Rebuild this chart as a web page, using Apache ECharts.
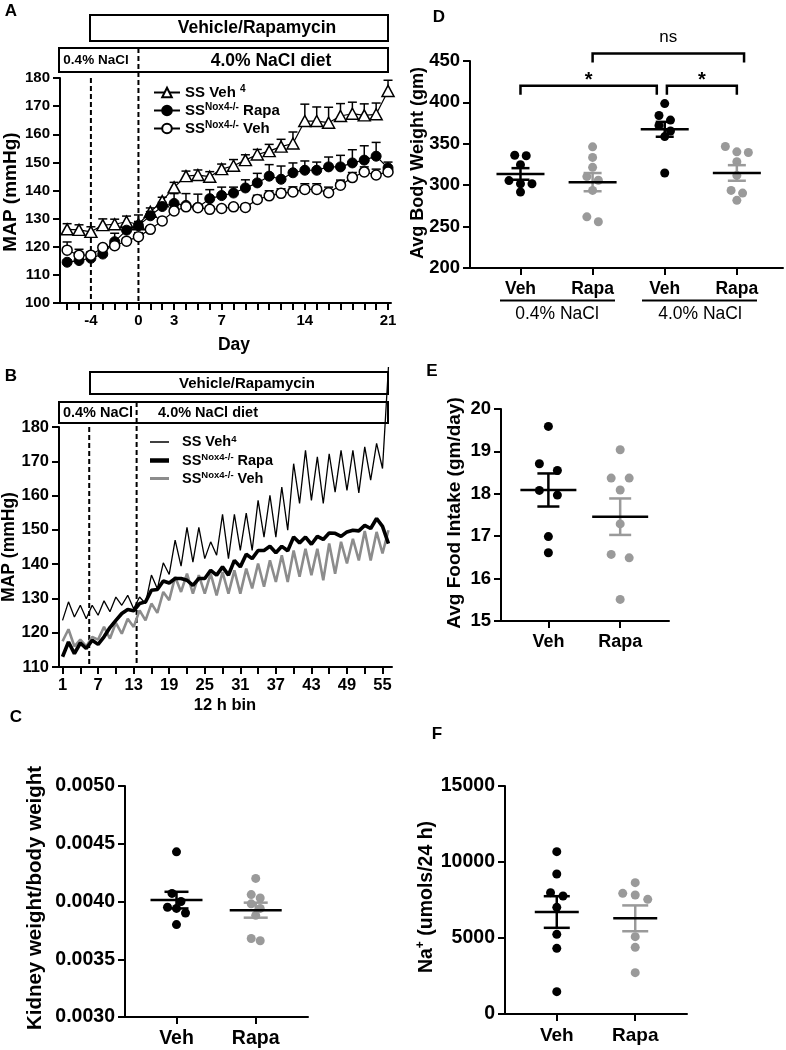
<!DOCTYPE html>
<html>
<head>
<meta charset="utf-8">
<script src="https://cdn.jsdelivr.net/npm/echarts@6/dist/echarts.min.js"></script>
<style>
html, body { margin: 0; padding: 0; background: #fff; }
#chart { width: 786px; height: 1050px; }
</style>
</head>
<body>
<div id="chart"></div>
<script>
// ---------- panel A : daily MAP ----------
const days = [-6, -5, -4, -3, -2, -1, 0, 1, 2, 3, 4, 5, 6, 7, 8, 9, 10, 11, 12, 13, 14, 15, 16, 17, 18, 19, 20, 21];
const dayTicks = [-6, -5, -4, -3, -2, -1, 0, 1, 2, 3, 4, 5, 6, 7, 8, 9, 10, 11, 12, 13, 14, 15, 16, 17, 18, 19, 20, 21];
const dayLabels = [-4, 0, 3, 7, 14, 21];
const dietMarksA = [-4, 0];
const ssVeh = [126.2, 126, 125.3, 127.7, 128, 128.9, 128, 132.4, 136.2, 141.1, 145.1, 145.5, 144.9, 147.6, 148.8, 150.8, 152.8, 154, 155.6, 156.7, 164.7, 164.7, 164.1, 166.5, 167.3, 166.7, 167.1, 175.4];
const ssVehErr = [2, 1.8, 1.8, 2.2, 1.8, 2, 3.3, 1.4, 1.4, 1.8, 1.8, 1.8, 1.8, 1.8, 2.2, 1.9, 1.8, 2.4, 2.6, 4.1, 6, 5, 5.5, 4.4, 4.1, 4.1, 4, 3.8];
const noxRapa = [114.5, 115.1, 115.9, 117.4, 121.8, 125.9, 127.5, 131, 134.3, 135.4, 134.7, 134, 137.1, 138.2, 139.1, 140.9, 142.7, 145.1, 144, 146.3, 147.2, 147.2, 148.4, 148.4, 149.8, 150.8, 152.2, 148];
const noxRapaErr = [0.8, 1, 1, 1, 3, 1.5, 1.5, 1.5, 1.5, 3.5, 4.2, 4.7, 3.2, 3, 2.1, 2.9, 3.4, 4.1, 4.7, 3.5, 3.3, 2.9, 3.5, 4.1, 4.7, 5.1, 4.9, 2.1];
const noxVeh = [118.8, 117, 117, 119.7, 120.4, 122, 123.6, 126.2, 129.2, 132.7, 134.2, 133.9, 133.3, 133.6, 134.2, 134, 136.8, 138.1, 139, 139.5, 140.4, 140.4, 139.2, 141.9, 144.6, 146.6, 145.5, 146.6];
const noxVehErr = [2.9, 2.1, 1.2, 0.8, 0.8, 0.8, 1.4, 0.8, 1, 1.2, 1, 1, 1, 1, 1, 1, 1.5, 1.8, 1.6, 1.8, 2, 2, 2, 1.8, 1.8, 1.8, 2.1, 1.5];

// ---------- panel B : 12 h bins ----------
const binTicks = [1, 4, 7, 10, 13, 16, 19, 22, 25, 28, 31, 34, 37, 40, 43, 46, 49, 52, 55];
const binLabels = [1, 7, 13, 19, 25, 31, 37, 43, 49, 55];
const dietMarksB = [5.5, 13.5];
const ssVehBin = [123.6, 129, 124.6, 128, 124.1, 128, 125.1, 129.3, 126.1, 130.4, 128, 130.9, 127, 130.4, 128.5, 136.8, 132.8, 140.4, 137, 147,
  139.4, 150.7, 140.6, 150.7, 141.6, 146.5, 142.6, 154.5, 141.6, 154.5, 144, 154.9, 144, 158.6, 147.9, 160.1, 147.9, 162.5, 149.9, 169.3,
  157.7, 173.2, 158.6, 171.3, 157.7, 172.2, 161, 173.2, 161.5, 173.2, 160.8, 174.2, 164.5, 175.2, 167.9, 197.5];
const noxRapaBin = [113, 117.3, 113.9, 117, 115.4, 117.8, 116.6, 118.8, 121.5, 123.6, 125.6, 126.8, 126.4, 128.5, 129, 132.4, 132.6, 135.1, 134.5, 135.8,
  135.8, 135.3, 133.8, 135.8, 135.8, 138.2, 136.8, 139.2, 136.8, 141.1, 139.2, 142.9, 141.6, 144, 144, 145.2, 143.3, 145.2, 143.9, 147.9,
  146.2, 147.9, 145.8, 148.1, 147.2, 149.1, 149, 148.1, 149.4, 149.9, 149.7, 151.3, 150.4, 153.3, 151, 146];
const noxVehBin = [117.5, 121, 116, 118, 116, 118.8, 118, 121.7, 118.3, 122.9, 119.7, 124.1, 121.7, 126.5, 123.6, 128.5, 125.8, 131.9, 129.5, 136.3,
  131.9, 137.2, 131.4, 136.8, 131.4, 137.2, 130.9, 137.7, 131.4, 138.2, 131.4, 138.7, 132.9, 140.2, 133.4, 141.1, 134.8, 142.6, 134.8, 144,
  136.3, 144.5, 136.8, 144.5, 135.3, 146, 137.2, 146.5, 140.2, 147.4, 141.1, 149.7, 141.1, 149.4, 143.1, 149.9];

// ---------- panels C-F : individual animals ----------
const twoGroups = ['Veh', 'Rapa'];
const kidneyVeh = [0.00443, 0.00400, 0.00407, 0.00395, 0.00390, 0.00394, 0.00380];
const kidneyRapa = [0.00420, 0.00403, 0.00406, 0.00398, 0.00394, 0.00388, 0.00368, 0.00366];
const kidneyMean = [0.004012, 0.003925];
const kidneySem = [0.000072, 0.000065];

const weightGroups = ['Veh', 'Rapa', 'Veh', 'Rapa'];
const weightDiets = ['0.4% NaCl', '4.0% NaCl'];
const weightVeh04 = [335.6, 336.2, 324.8, 305.6, 301.7, 301.7, 291.8];
const weightRapa04 = [346.3, 333.6, 321.6, 310.4, 306, 293.7, 261.8, 255.8];
const weightVeh40 = [398.6, 384.2, 378.6, 372.2, 365.4, 358.7, 314.8];
const weightRapa40 = [346.8, 340.3, 339.5, 328.4, 311.8, 293.7, 290.5, 281.7];
const weightMean = [313.6, 303.7, 367.5, 314.8];
const weightSem = [7, 11, 9, 9.4];
// significance brackets: from group, to group, top (gm), label
const bracketFrom = [1, 3.03, 2];
const bracketTo = [2.89, 4.0, 4.1];
const bracketTop = [420, 420, 459];
const bracketText = ['*', '*', 'ns'];

const foodVeh = [19.59, 18.55, 18.71, 18.08, 17.97, 16.99, 16.61];
const foodRapa = [19.04, 18.37, 18.37, 18.09, 17.29, 16.57, 16.49, 15.51];
const foodMean = [18.09, 17.46];
const foodSem = [0.39, 0.43];

const naVeh = [10680, 9210, 7763, 7983, 7018, 5241, 4320, 1469];
const naRapa = [8640, 7829, 7938, 7544, 5088, 4386, 2719];
const naMean = [6710, 6294];
const naSem = [1040, 850];

// ---------- style ----------
const FONT = '"Liberation Sans", Arial, Helvetica, sans-serif';
const BLACK = '#000000';
const GRAY = '#9a9a9a';
const LINEGRAY = '#8c8c8c';

const grids = [
  { left: 60, top: 78, width: 331, height: 225 },   // A
  { left: 59, top: 427, width: 333, height: 240 },  // B
  { left: 125, top: 786, width: 183, height: 231 }, // C
  { left: 470, top: 61, width: 313, height: 207 },  // D
  { left: 501, top: 409, width: 168, height: 212 }, // E
  { left: 505, top: 786, width: 182, height: 228 }  // F
];
const xRange = [[-6.6, 21.25], [0.4, 56.6], [0.35, 2.66], [0.3, 4.64], [0.34, 2.68], [0.34, 2.66]];
const yRange = [[100, 180], [110, 180], [0.003, 0.005], [200, 450], [15, 20], [0, 15000]];

function xAx(gi, ticks, labels, fmt, fontSize, margin) {
  return {
    type: 'value', gridIndex: gi, min: xRange[gi][0], max: xRange[gi][1],
    axisLine: { show: true, onZero: false, lineStyle: { color: BLACK, width: 2 } },
    axisTick: { show: true, length: 7, customValues: ticks, lineStyle: { color: BLACK, width: 2 } },
    axisLabel: { customValues: labels, formatter: fmt, color: BLACK, fontFamily: FONT, fontWeight: 'bold', fontSize: fontSize, margin: margin },
    splitLine: { show: false }
  };
}
function yAx(gi, interval, fmt, fontSize) {
  return {
    type: 'value', gridIndex: gi, min: yRange[gi][0], max: yRange[gi][1], interval: interval,
    axisLine: { show: true, onZero: false, lineStyle: { color: BLACK, width: 2 } },
    axisTick: { show: true, length: 7, lineStyle: { color: BLACK, width: 2 } },
    axisLabel: { formatter: fmt, color: BLACK, fontFamily: FONT, fontWeight: 'bold', fontSize: fontSize, margin: 10 },
    splitLine: { show: false }
  };
}

// rows of close values are spread sideways, like a column scatter
function swarm(vals, center, gi, spacing) {
  const g = grids[gi];
  const pyPerUnit = g.height / (yRange[gi][1] - yRange[gi][0]);
  const pxPerUnit = g.width / (xRange[gi][1] - xRange[gi][0]);
  const order = vals.map((v, i) => i).sort((a, b) => vals[b] - vals[a]);
  const out = [];
  let i = 0;
  while (i < order.length) {
    const row = [order[i]];
    let j = i + 1;
    while (j < order.length && (vals[order[i]] - vals[order[j]]) * pyPerUnit < 9) { row.push(order[j]); j++; }
    row.forEach((k, r) => out.push([center + (r - (row.length - 1) / 2) * spacing / pxPerUnit, vals[k]]));
    i = j;
  }
  return out;
}

function dots(gi, vals, center, color, spacing) {
  return {
    type: 'scatter', xAxisIndex: gi, yAxisIndex: gi, symbol: 'circle', symbolSize: 9,
    itemStyle: { color: color, opacity: 1 }, z: 3,
    data: swarm(vals, center, gi, spacing)
  };
}

function meanSem(gi, means, sems, colors, halfMean, halfCap) {
  return {
    type: 'custom', xAxisIndex: gi, yAxisIndex: gi, z: 6,
    encode: { x: 0, y: 1 },
    data: means.map((m, i) => [i + 1, m, sems[i], i]),
    renderItem: function (params, api) {
      const x = api.value(0), m = api.value(1), s = api.value(2);
      const c = colors[api.value(3)];
      const pm = api.coord([x, m]), pt = api.coord([x, m + s]), pb = api.coord([x, m - s]);
      const ln = (x1, y1, x2, y2, col) => ({ type: 'line', shape: { x1, y1, x2, y2 }, style: { stroke: col, lineWidth: 2.5 } });
      return { type: 'group', children: [
        ln(pt[0], pt[1], pb[0], pb[1], c),
        ln(pt[0] - halfCap, pt[1], pt[0] + halfCap, pt[1], c),
        ln(pb[0] - halfCap, pb[1], pb[0] + halfCap, pb[1], c),
        ln(pm[0] - halfMean, pm[1], pm[0] + halfMean, pm[1], BLACK)
      ] };
    }
  };
}

function errUp(x, vals, errs) {
  return {
    type: 'custom', xAxisIndex: 0, yAxisIndex: 0, z: 1,
    encode: { x: 0, y: 1 },
    data: x.map((d, i) => [d, vals[i], errs[i]]),
    renderItem: function (params, api) {
      const p0 = api.coord([api.value(0), api.value(1)]);
      const p1 = api.coord([api.value(0), api.value(1) + api.value(2)]);
      return { type: 'group', children: [
        { type: 'line', shape: { x1: p0[0], y1: p0[1], x2: p1[0], y2: p1[1] }, style: { stroke: BLACK, lineWidth: 1.5 } },
        { type: 'line', shape: { x1: p1[0] - 4.5, y1: p1[1], x2: p1[0] + 4.5, y2: p1[1] }, style: { stroke: BLACK, lineWidth: 1.5 } }
      ] };
    }
  };
}

const pair = (xs, ys) => xs.map((d, i) => [d, ys[i]]);
const binPair = ys => ys.map((v, i) => [i + 1, v]);

const legendNames = {
  aSsVeh: '{t|SS Veh }{s|4}',
  aNoxRapa: '{t|SS}{s|Nox4-/-}{t| Rapa}',
  aNoxVeh: '{t|SS}{s|Nox4-/-}{t| Veh}',
  bSsVeh: '{t|SS Veh}{s|4}',
  bNoxRapa: '{t|SS}{s|Nox4-/-}{t| Rapa}',
  bNoxVeh: '{t|SS}{s|Nox4-/-}{t| Veh}'
};
function legendRich(size, lh) {
  return {
    t: { fontFamily: FONT, fontWeight: 'bold', fontSize: size, color: BLACK, lineHeight: lh },
    s: { fontFamily: FONT, fontWeight: 'bold', fontSize: size - 5, color: BLACK, verticalAlign: 'top', lineHeight: lh }
  };
}
// one small legend per B line so each icon can take its own line thickness
function lineLegend(name, centerY, thick) {
  return {
    data: [name], left: 145, top: centerY - 8, icon: 'rect',
    itemWidth: 19, itemHeight: thick, selectedMode: false,
    formatter: n => legendNames[n], textStyle: { rich: legendRich(14.5, 16), padding: [0, 0, 0, 8] }
  };
}

const catFmt = names => (v => names[Math.round(v) - 1]);

const option = {
  animation: false,
  backgroundColor: '#ffffff',
  grid: grids,
  xAxis: [
    xAx(0, dayTicks, dayLabels, v => String(v), 15, 10),
    xAx(1, binTicks, binLabels, v => String(v), 16.5, 10),
    xAx(2, [1, 2], [1, 2], catFmt(twoGroups), 19.5, 12),
    xAx(3, [1, 2, 3, 4], [1, 2, 3, 4], catFmt(weightGroups), 17.5, 12),
    xAx(4, [1, 2], [1, 2], catFmt(twoGroups), 18, 12),
    xAx(5, [1, 2], [1, 2], catFmt(twoGroups), 19, 12)
  ],
  yAxis: [
    yAx(0, 10, v => String(v), 15),
    yAx(1, 10, v => String(v), 16.5),
    yAx(2, 0.0005, v => v.toFixed(4), 19.5),
    yAx(3, 50, v => String(v), 18.5),
    yAx(4, 1, v => String(v), 18.5),
    yAx(5, 5000, v => String(v), 19.5)
  ],
  legend: [
    {
      data: ['aSsVeh', 'aNoxRapa', 'aNoxVeh'], orient: 'vertical', left: 148, top: 79,
      itemWidth: 26, itemHeight: 12, itemGap: 2, selectedMode: false,
      formatter: n => legendNames[n], textStyle: { rich: legendRich(15, 17) }
    },
    lineLegend('bSsVeh', 437, 1.5),
    lineLegend('bNoxRapa', 455.5, 4.5),
    lineLegend('bNoxVeh', 473.5, 3)
  ],
  series: [
    errUp(days, ssVeh, ssVehErr),
    errUp(days, noxRapa, noxRapaErr),
    errUp(days, noxVeh, noxVehErr),
    {
      name: 'aSsVeh', type: 'line', xAxisIndex: 0, yAxisIndex: 0, z: 3,
      symbol: 'triangle', symbolSize: [12, 11], showSymbol: true, color: BLACK,
      itemStyle: { color: '#ffffff', borderColor: BLACK, borderWidth: 1.5 },
      lineStyle: { color: BLACK, width: 1.2 },
      data: pair(days, ssVeh)
    },
    {
      name: 'aNoxRapa', type: 'line', xAxisIndex: 0, yAxisIndex: 0, z: 4,
      symbol: 'circle', symbolSize: 10, showSymbol: true, color: BLACK,
      itemStyle: { color: BLACK, borderColor: BLACK, borderWidth: 1 },
      lineStyle: { color: BLACK, width: 1.2 },
      data: pair(days, noxRapa)
    },
    {
      name: 'aNoxVeh', type: 'line', xAxisIndex: 0, yAxisIndex: 0, z: 5,
      symbol: 'circle', symbolSize: 10, showSymbol: true, color: BLACK,
      itemStyle: { color: '#ffffff', borderColor: BLACK, borderWidth: 1.5 },
      lineStyle: { color: BLACK, width: 1.2 },
      data: pair(days, noxVeh)
    },
    {
      name: 'bNoxVeh', type: 'line', xAxisIndex: 1, yAxisIndex: 1, z: 2,
      symbol: 'none', color: LINEGRAY, lineStyle: { color: LINEGRAY, width: 2.6 },
      data: binPair(noxVehBin)
    },
    {
      name: 'bNoxRapa', type: 'line', xAxisIndex: 1, yAxisIndex: 1, z: 3,
      symbol: 'none', color: BLACK, lineStyle: { color: BLACK, width: 3.6 },
      data: binPair(noxRapaBin)
    },
    {
      name: 'bSsVeh', type: 'line', xAxisIndex: 1, yAxisIndex: 1, z: 4, clip: false,
      symbol: 'none', color: BLACK, lineStyle: { color: BLACK, width: 1.3 },
      data: binPair(ssVehBin)
    },
    // C
    dots(2, kidneyVeh, 1, BLACK, 9),
    dots(2, kidneyRapa, 2, GRAY, 9),
    meanSem(2, kidneyMean, kidneySem, [BLACK, GRAY], 26, 12),
    // D
    dots(3, weightVeh04, 1, BLACK, 11.5),
    dots(3, weightRapa04, 2, GRAY, 11.5),
    dots(3, weightVeh40, 3, BLACK, 11.5),
    dots(3, weightRapa40, 4, GRAY, 11.5),
    meanSem(3, weightMean, weightSem, [BLACK, GRAY, BLACK, GRAY], 24, 9),
    {
      type: 'custom', xAxisIndex: 3, yAxisIndex: 3, z: 6, clip: false,
      encode: { x: 0, y: 2 },
      data: bracketFrom.map((f, i) => [f, bracketTo[i], bracketTop[i]]),
      renderItem: function (params, api) {
        const x1 = api.value(0), x2 = api.value(1), yt = api.value(2);
        const drop = 10.8;
        const a = api.coord([x1, yt - drop]), b = api.coord([x1, yt]);
        const c = api.coord([x2, yt]), d = api.coord([x2, yt - drop]);
        const lab = bracketText[params.dataIndex];
        const isStar = lab === '*';
        return { type: 'group', children: [
          { type: 'polyline', shape: { points: [a, b, c, d] }, style: { stroke: BLACK, lineWidth: 2.5, fill: 'none' } },
          { type: 'text', x: (b[0] + c[0]) / 2, y: b[1] - (isStar ? 5 : 16),
            style: { text: lab, fill: BLACK, fontFamily: FONT, fontSize: isStar ? 20 : 17, fontWeight: isStar ? 'bold' : 'normal',
              align: 'center', verticalAlign: 'middle' } }
        ] };
      }
    },
    // E
    dots(4, foodVeh, 1, BLACK, 18),
    dots(4, foodRapa, 2, GRAY, 18),
    meanSem(4, foodMean, foodSem, [BLACK, GRAY], 28, 11),
    // F
    dots(5, naVeh, 1, BLACK, 12.5),
    dots(5, naRapa, 2, GRAY, 12.5),
    meanSem(5, naMean, naSem, [BLACK, GRAY], 22, 13)
  ]
};

const chart = echarts.init(document.getElementById('chart'), null, { renderer: 'canvas' });
chart.setOption(option);

// ---------- annotations: boxes, dashed diet lines, titles ----------
function txt(x, y, text, size, weight, rot) {
  return { type: 'text', x: x, y: y, rotation: rot || 0, z: 10,
    style: { text: text, fill: BLACK, fontFamily: FONT, fontSize: size, fontWeight: weight || 'bold', align: 'center', verticalAlign: 'middle' } };
}
function box(x, y, w, h) {
  return { type: 'rect', shape: { x: x, y: y, width: w, height: h }, z: 0,
    style: { fill: '#ffffff', stroke: BLACK, lineWidth: 2 } };
}
function dash(x, y1, y2) {
  return { type: 'line', shape: { x1: x, y1: y1, x2: x, y2: y2 }, z: 1,
    style: { stroke: BLACK, lineWidth: 2, lineDash: [5, 3] } };
}
const toPx = (gi, p) => chart.convertToPixel({ gridIndex: gi }, p);

const aTop = toPx(0, [0, 180])[1], aBot = toPx(0, [0, 100])[1];
const bTop = toPx(1, [1, 180])[1], bBot = toPx(1, [1, 110])[1];
const PI2 = Math.PI / 2;

const graphics = [
  txt(11, 11, 'A', 17), txt(11, 376, 'B', 17), txt(16, 717, 'C', 17),
  txt(439, 17, 'D', 17), txt(432, 371, 'E', 17), txt(437, 734, 'F', 17),
  // A boxes
  box(90, 15, 298, 26), txt(257, 28.5, 'Vehicle/Rapamycin', 17.5),
  box(59, 48, 329, 24), txt(96, 60.5, '0.4% NaCl', 13.5), txt(271, 61, '4.0% NaCl diet', 17.5),
  // B boxes
  box(90, 372, 298, 22), txt(247, 384, 'Vehicle/Rapamycin', 15),
  box(59, 402, 329, 21), txt(98, 413, '0.4% NaCl', 14.5), txt(208, 413, '4.0% NaCl diet', 14.5),
  // dashed diet lines
  dash(toPx(0, [dietMarksA[0], 100])[0], aTop, aBot),
  dash(toPx(0, [dietMarksA[1], 100])[0], 48, aBot),
  dash(toPx(1, [dietMarksB[0], 110])[0], bTop, bBot),
  dash(toPx(1, [dietMarksB[1], 110])[0], 402, bBot),
  // axis titles
  txt(11, 192, 'MAP (mmHg)', 19, 'bold', PI2),
  txt(234, 345, 'Day', 17.5),
  txt(9, 547, 'MAP (mmHg)', 17.5, 'bold', PI2),
  txt(225, 705, '12 h bin', 16.5),
  txt(35, 898, 'Kidney weight/body weight', 20.5, 'bold', PI2),
  txt(418, 163, 'Avg Body Weight (gm)', 18, 'bold', PI2),
  txt(455, 513, 'Avg Food Intake (gm/day)', 19, 'bold', PI2),
  { type: 'text', x: 427, y: 897, rotation: PI2, z: 10,
    style: { text: '{t|Na}{s|+}{t| (umols/24 h)}', align: 'center', verticalAlign: 'middle',
      rich: {
        t: { fontFamily: FONT, fontWeight: 'bold', fontSize: 19.5, fill: BLACK, lineHeight: 24 },
        s: { fontFamily: FONT, fontWeight: 'bold', fontSize: 12, fill: BLACK, verticalAlign: 'top', lineHeight: 24 }
      } } },
  // D diet groups under the category labels
  { type: 'line', shape: { x1: 500, y1: 300.5, x2: 615, y2: 300.5 }, style: { stroke: BLACK, lineWidth: 2 } },
  { type: 'line', shape: { x1: 642, y1: 300.5, x2: 757, y2: 300.5 }, style: { stroke: BLACK, lineWidth: 2 } },
  txt(557, 314, weightDiets[0], 17.5, 'normal'),
  txt(700, 314, weightDiets[1], 17.5, 'normal')
];
chart.setOption({ graphic: graphics });
</script>
</body>
</html>
